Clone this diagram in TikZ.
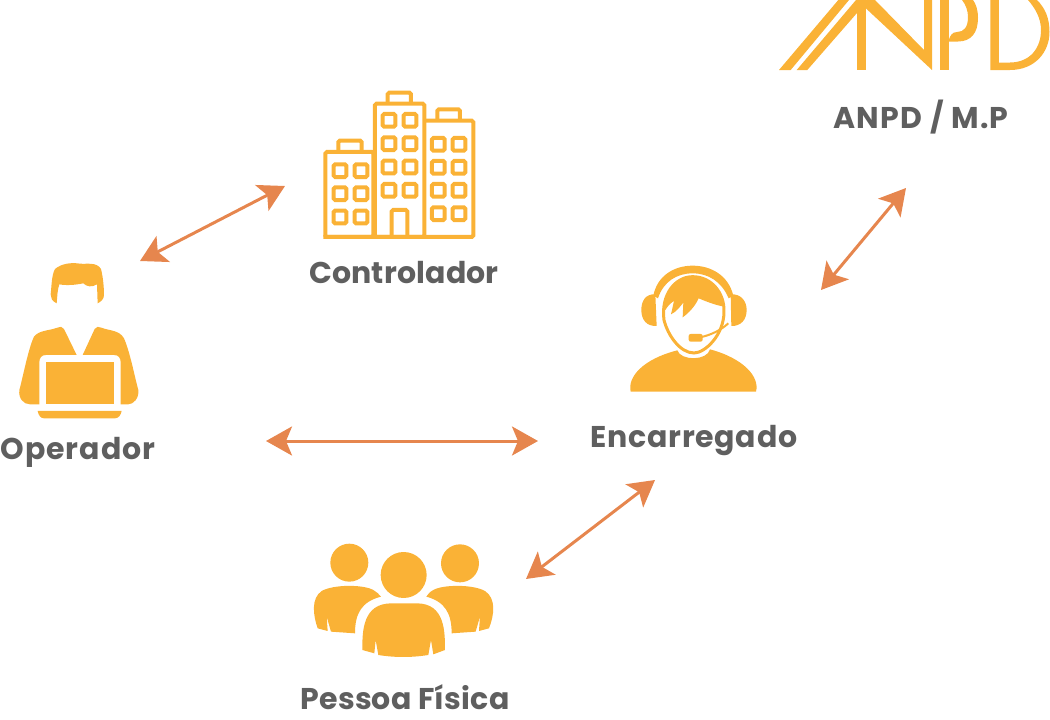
\documentclass[tikz,border=0pt]{standalone}
\usepackage{fontspec}
\setmainfont{Poppins}
\usetikzlibrary{arrows.meta}
\definecolor{amber}{HTML}{FAB236}
\definecolor{linkorange}{HTML}{E6864E}
\definecolor{labelgrey}{HTML}{5F5F5F}
\newcommand{\spaced}[1]{\addfontfeature{LetterSpace=#1}}
\tikzset{
  label text/.style={font=\bfseries\fontsize{30}{34}\selectfont, text=labelgrey, inner sep=0pt, anchor=base},
  link/.style={draw=linkorange, line width=3pt, {Stealth[length=26pt,width=29pt,inset=6pt]}-{Stealth[length=26pt,width=29pt,inset=6pt]}},
  icon fill/.style={fill=amber, draw=none},
  icon line/.style={draw=amber, line width=4pt, rounded corners=1.5pt, fill=none},
  window/.style={draw=amber, line width=4pt, rounded corners=1.5pt, fill=none, minimum size=12.7pt, inner sep=0pt, shape=rectangle}
}
\begin{document}
\begin{tikzpicture}[x=1pt,y=-1pt]
\useasboundingbox (0,0) rectangle (1050,720);
\clip (0,0) rectangle (1050,720);

% ANPD logo
\fill[amber] (779,70) -- (790.7,70) -- (849,0) -- (838.3,0) -- cycle;
\fill[amber] (796.7,70) -- (807.3,70) -- (857,13) -- (857,0) -- (856,0) -- cycle;
\fill[amber] (856.7,0) rectangle (865.5,70);
\fill[amber] (865.5,0) -- (875,0) -- (924,50) -- (924,0) -- (932,0) -- (932,70) -- (865.5,8) -- cycle;
\fill[amber] (940,0) rectangle (948.8,70);
\fill[amber] (948.8,41.5) -- (958,41.5) .. controls (971,41.5) and (978,33) .. (978,18)
  .. controls (978,10) and (976,4) .. (973,0) -- (962,0)
  .. controls (966,5) and (968,11) .. (968,17)
  .. controls (968,27) and (964,32) .. (957,32)
  .. controls (952,32) and (950,36) .. (948.8,40) -- cycle;
\fill[amber] (990.3,0) -- (990.3,70) -- (1010,70)
  .. controls (1035,70) and (1049.5,52) .. (1049.5,32)
  .. controls (1049.5,18) and (1045,8) .. (1037,0) -- (1028,0)
  .. controls (1035,8) and (1041,18) .. (1041,30)
  .. controls (1041,48) and (1030,62.5) .. (1010,62.5)
  -- (998.8,62.5) -- (998.8,0) -- cycle;

% Office buildings
\begin{scope}[shift={(310,85)},x=0.3333pt,y=-0.3333pt]
  \draw[icon line] (46,456) rectangle (190,201);
  \draw[icon line] (195,456) rectangle (343,56);
  \draw[icon line] (343,107) -- (490,107) -- (490,456) -- (40,456);
  \draw[icon line] (85,200) -- (85,167) -- (155,167) -- (155,200);
  \draw[icon line] (233,55) -- (233,23) -- (303,23) -- (303,55);
  \draw[icon line] (382,105) -- (382,73) -- (450,73) -- (450,105);
  \draw[icon line] (245,456) -- (245,375) -- (292,375) -- (292,456);
  \foreach \wx/\wy in {90/257,153/257,90/326,153/326,90/396,153/396,
                       237/106,300/106,237/176,300/176,237/246,300/246,237/316,300/316,
                       385/178,447/178,385/247,447/247,385/316,447/316,385/386,447/386}
    \node[window] at (\wx,\wy) {};
\end{scope}

% Person at a laptop
\begin{scope}[shift={(0,255)},x=0.3333pt,y=-0.3333pt]
  \fill[icon fill] (170,145) .. controls (155,138) and (152,128) .. (152,118)
    .. controls (155,90) and (155,60) .. (165,42)
    .. controls (185,25) and (215,22) .. (240,26)
    .. controls (260,28) and (290,20) .. (303,42)
    .. controls (310,70) and (312,100) .. (312,120)
    .. controls (312,132) and (303,140) .. (293,145)
    -- (291,88) .. controls (275,98) and (260,95) .. (250,85)
    .. controls (225,90) and (200,92) .. (178,88)
    .. controls (172,105) and (172,125) .. (170,145) -- cycle;
  \fill[icon fill] (230,300) -- (192,222) .. controls (187,214) and (180,214) .. (172,218)
    .. controls (145,228) and (118,225) .. (102,245)
    .. controls (85,280) and (68,370) .. (58,405)
    .. controls (55,430) and (70,448) .. (90,448) -- (118,448) -- (118,322)
    .. controls (118,308) and (125,300) .. (138,300) -- cycle;
  \fill[icon fill] (248,300) -- (284,222) .. controls (289,214) and (296,214) .. (304,218)
    .. controls (330,228) and (358,225) .. (372,250)
    .. controls (390,290) and (405,370) .. (415,405)
    .. controls (418,430) and (400,448) .. (385,448) -- (362,448) -- (362,322)
    .. controls (362,308) and (355,300) .. (342,300) -- cycle;
  \fill[icon fill] (137,322) rectangle (342,447);
  \fill[icon fill] (113,468) -- (365,468) .. controls (362,482) and (355,490) .. (345,490)
    -- (132,490) .. controls (122,490) and (116,482) .. (113,468) -- cycle;
\end{scope}

% Person wearing a headset
\begin{scope}[shift={(620,255)},x=0.3333pt,y=-0.3333pt]
  \fill[icon fill] (32,410) .. controls (22,365) and (70,312) .. (172,286)
    .. controls (182,318) and (262,318) .. (270,283)
    .. controls (370,310) and (420,365) .. (408,410) -- cycle;
  \fill[icon fill] (106,118) .. controls (75,116) and (64,140) .. (64,165)
    .. controls (64,195) and (80,214) .. (110,213) -- cycle;
  \fill[icon fill] (332,118) .. controls (365,116) and (380,140) .. (380,165)
    .. controls (380,195) and (362,214) .. (334,213) -- cycle;
  \fill[icon fill] (100,122) .. controls (112,60) and (165,32) .. (218,32)
    .. controls (272,32) and (325,60) .. (340,122) -- (326,130)
    .. controls (305,80) and (265,55) .. (218,55)
    .. controls (170,55) and (130,80) .. (114,130) -- cycle;
  \draw[amber, line width=3pt] (132,195) .. controls (122,120) and (165,65) .. (218,65)
    .. controls (275,65) and (314,115) .. (312,170)
    .. controls (312,240) and (255,294) .. (222,294)
    .. controls (180,294) and (143,240) .. (132,195);
  \fill[icon fill] (128,165) .. controls (138,95) and (175,65) .. (218,65)
    .. controls (265,65) and (302,100) .. (312,155)
    .. controls (285,150) and (260,140) .. (236,130)
    .. controls (225,155) and (205,175) .. (188,187)
    -- (190,143) .. controls (180,155) and (170,170) .. (153,178)
    -- (162,138) .. controls (155,142) and (145,150) .. (136,165) -- cycle;
  \draw[amber, line width=2pt] (245,246) .. controls (270,240) and (300,228) .. (325,205);
  \fill[icon fill, rounded corners=2pt] (206,237) rectangle (248,260);
\end{scope}

% Three people
\begin{scope}[shift={(305,535)},x=0.3333pt,y=-0.3333pt]
  \fill[icon fill] (133,83) circle[radius=57];
  \fill[icon fill] (465,85) circle[radius=57];
  \fill[icon fill] (296,120) circle[radius=69];
  \fill[icon fill] (172,345) .. controls (172,290) and (172,205) .. (260,205)
    -- (335,205) .. controls (420,205) and (420,290) .. (420,345)
    -- (385,358) -- (378,315) -- (370,360) .. controls (320,368) and (270,368) .. (220,360)
    -- (212,315) -- (208,355) -- cycle;
  \fill[icon fill] (38,280) .. controls (24,240) and (18,190) .. (50,168)
    .. controls (85,148) and (175,148) .. (205,165)
    .. controls (215,170) and (222,178) .. (228,185)
    .. controls (170,200) and (150,235) .. (150,295)
    -- (78,290) -- (65,245) -- (68,288) -- cycle;
  \fill[icon fill] (552,280) .. controls (568,240) and (574,190) .. (540,168)
    .. controls (505,148) and (415,148) .. (385,165)
    .. controls (375,170) and (368,178) .. (364,185)
    .. controls (420,200) and (440,235) .. (440,295)
    -- (512,290) -- (525,245) -- (522,288) -- cycle;
\end{scope}

% Anchor points of the links
\coordinate (opA) at (140,261);
\coordinate (ctrlA) at (285,186);
\coordinate (encA) at (821,290);
\coordinate (anpdA) at (906,188);
\coordinate (opB) at (266,441);
\coordinate (encB) at (538,441);
\coordinate (pfA) at (526,579);
\coordinate (encC) at (655,480);

\draw[link] (opA) -- (ctrlA);
\draw[link] (encA) -- (anpdA);
\draw[link] (opB) -- (encB);
\draw[link] (pfA) -- (encC);

% Labels
\node[label text] (anpdlabel) at (921,128) {\spaced{4.3}ANPD / M.P};
\node[label text] (ctrllabel) at (404,283) {\spaced{0.6}Controlador};
\node[label text] (enclabel) at (694,447) {\spaced{2.4}Encarregado};
\node[label text] (oplabel) at (78,459) {\spaced{3.3}Operador};
\node[label text] (pflabel) at (405,709) {\spaced{0.8}Pessoa Física};
\end{tikzpicture}
\end{document}
